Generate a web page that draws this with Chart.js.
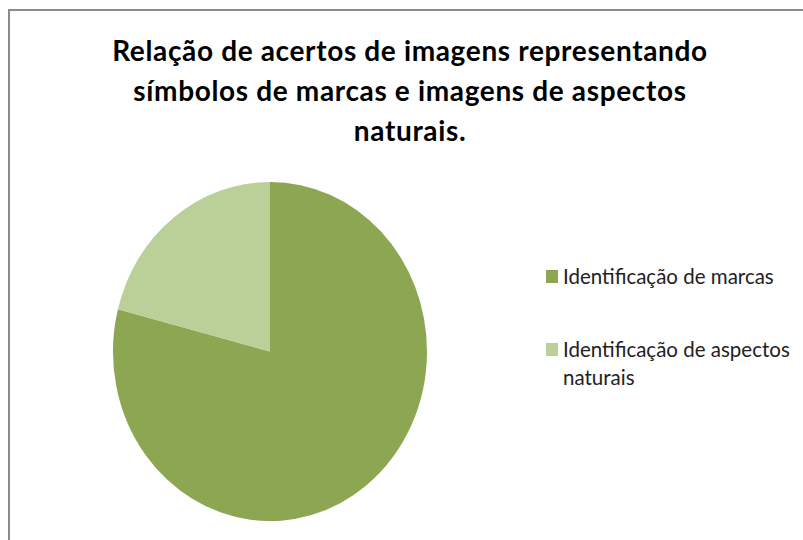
<!DOCTYPE html>
<html>
<head>
<meta charset="utf-8">
<script src="https://cdn.jsdelivr.net/npm/chart.js@4/dist/chart.umd.min.js"></script>
<style>
  html, body { margin: 0; padding: 0; background: #fff; }
  #wrap { position: relative; width: 803px; height: 540px; overflow: hidden; font-family: Lato, sans-serif; }
  #frame { position: absolute; left: 8px; top: 9px; width: 800px; height: 540px; border-left: 2px solid #8c8c8c; border-top: 2px solid #8c8c8c; }
  #title { position: absolute; left: 10px; width: 800px; top: 30px; text-align: center; font-weight: bold; font-size: 28px; letter-spacing: 0.65px; line-height: 40px; color: #000; }
  #chart-box { position: absolute; left: 93px; top: 162px; width: 354px; height: 378px; }
  #legend { position: absolute; left: 546px; top: 262px; font-size: 20.5px; line-height: 28px; color: #222; }
  .item { position: relative; padding-left: 17px; margin-bottom: 45px; }
  .item .box { position: absolute; left: 0; top: 8px; width: 12px; height: 13px; }
</style>
</head>
<body>
<div id="wrap">
  <div id="frame"></div>
  <div id="title">Relação de acertos de imagens representando<br>símbolos de marcas e imagens de aspectos<br>naturais.</div>
  <div id="chart-box"><canvas id="chart-pie"></canvas></div>
  <div id="legend"></div>
</div>
<script>
const labels = ["Identificação de marcas", "Identificação de aspectos naturais"];
const legendLines = [["Identificação de marcas"], ["Identificação de aspectos", "naturais"]];
const values = [79, 21];
const colors = ["#8ca651", "#bbcf99"];

// Excel drew the pie slightly taller than wide
const stretch = {
	id: "stretch",
	beforeDatasetsDraw(chart) {
		const a = chart.chartArea;
		const cx = (a.left + a.right) / 2;
		const cy = (a.top + a.bottom) / 2;
		const c = chart.ctx;
		c.save();
		c.translate(cx, cy);
		c.scale(1, 1.08);
		c.translate(-cx, -cy);
	},
	afterDatasetsDraw(chart) {
		chart.ctx.restore();
	},
};

const ctx = document.getElementById("chart-pie");

const chart = new Chart(ctx, {
	type: "pie",
	data: {
		labels: labels,
		datasets: [
			{
				data: values,
				backgroundColor: colors,
				borderWidth: 0,
				clip: false,
			},
		],
	},
	options: {
		responsive: true,
		maintainAspectRatio: false,
		animation: false,
		layout: {
			padding: { left: 20, right: 20, top: 32.5, bottom: 31.5 },
		},
		plugins: {
			legend: { display: false },
			tooltip: { enabled: false },
		},
	},
	plugins: [stretch],
});

const legend = document.getElementById("legend");
chart.data.labels.forEach((label, i) => {
	const item = document.createElement("div");
	item.className = "item";
	const box = document.createElement("span");
	box.className = "box";
	box.style.background = chart.data.datasets[0].backgroundColor[i];
	item.appendChild(box);
	legendLines[i].forEach((line, j) => {
		if (j > 0) item.appendChild(document.createElement("br"));
		item.appendChild(document.createTextNode(line));
	});
	legend.appendChild(item);
});
</script>
</body>
</html>
